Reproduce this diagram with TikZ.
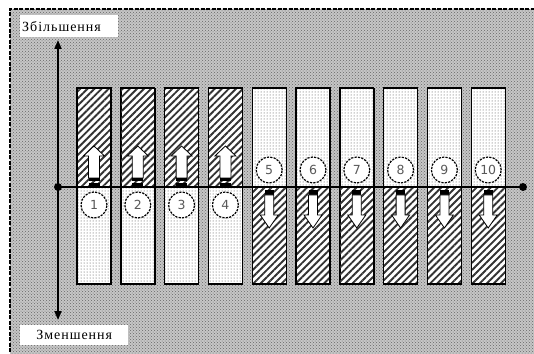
\documentclass[tikz,border=0pt]{standalone}
\usepackage{fontspec}
\setmainfont{Liberation Serif}
\newfontfamily\numfont{DejaVu Sans}
\usetikzlibrary{patterns,patterns.meta,arrows.meta}
\tikzset{
	bgpat/.style={fill=gray!45, postaction={pattern=crosshatch dots, pattern color=black!60}},
	hatchbar/.style={fill=white, postaction={pattern={Lines[angle=45,distance=5pt,line width=1.9pt]}, pattern color=black!80}, postaction={draw, line width=1.2pt}},
	dotbar/.style={fill=white, postaction={pattern=dots, pattern color=black!75}, postaction={draw, line width=1.2pt}},
	numc/.style={circle, draw, dash pattern=on 2.2pt off 1.2pt, line width=1.2pt, fill=white, minimum size=26pt, inner sep=0pt, font=\numfont\fontsize{12.5}{12.5}\selectfont, text=black!65},
	lbl/.style={fill=white, inner ysep=0pt, inner xsep=2pt, font=\fontsize{14}{15}\selectfont\addfontfeatures{LetterSpace=7}},
	uparr/.pic={
		\draw[fill=white, line width=0.8pt] (-5.5,0) -- (-5.5,22) -- (-10.5,22) -- (0,32) -- (10.5,22) -- (5.5,22) -- (5.5,0) -- cycle;
		\fill (-5.5,-3) rectangle (5.5,0);
		\fill (-5.5,-8) rectangle (5.5,-5);
	},
	downarr/.pic={
		\fill (-4.5,0) rectangle (4.5,-5);
		\draw[fill=white, line width=0.8pt] (-4.5,-5) -- (-4.5,-25) -- (-9,-25) -- (0,-38) -- (9,-25) -- (4.5,-25) -- (4.5,-5) -- cycle;
	}
}
\begin{document}
\begin{tikzpicture}[x=1pt,y=1pt]
				\clip (0,0) rectangle (534,353);
				\fill[white] (0,0) rectangle (534,353);
				\fill[bgpat] (10,-10) rectangle (545,344);
				\draw[dash pattern=on 4pt off 1.5pt, line width=1.5pt] (10,-10) rectangle (545,344);
                                \draw[hatchbar] (77,166) rectangle +(34,99);
                                \draw[hatchbar] (120.8,166) rectangle +(34,99);
                                \draw[hatchbar] (164.6,166) rectangle +(34,99);
                                \draw[hatchbar] (208.4,166) rectangle +(34,99);
                                \draw[dotbar] (77,69) rectangle +(34,97);
                                \draw[dotbar] (120.8,69) rectangle +(34,97);
                                \draw[dotbar] (164.6,69) rectangle +(34,97);
                                \draw[dotbar] (208.4,69) rectangle +(34,97);
                                \draw[dotbar] (252.2,166) rectangle +(34,99);
                                \draw[dotbar] (296,166) rectangle +(34,99);
                                \draw[dotbar] (339.8,166) rectangle +(34,99);
                                \draw[dotbar] (383.6,166) rectangle +(34,99);
                                \draw[dotbar] (427.4,166) rectangle +(34,99);
                                \draw[dotbar] (471.2,166) rectangle +(34,99);
                                \draw[hatchbar] (252.2,69) rectangle +(34,97);
                                \draw[hatchbar] (296,69) rectangle +(34,97);
                                \draw[hatchbar] (339.8,69) rectangle +(34,97);
                                \draw[hatchbar] (383.6,69) rectangle +(34,97);
                                \draw[hatchbar] (427.4,69) rectangle +(34,97);
                                \draw[hatchbar] (471.2,69) rectangle +(34,97);
				\coordinate (o) at (58,166);
				\coordinate (xend) at (523,166);
				\coordinate (ytop) at (58,313);
				\coordinate (ybot) at (58,33);
				\draw[line width=2pt, {Triangle[width=7pt,length=9pt]}-{Triangle[width=7pt,length=9pt]}] (ybot) -- (ytop);
				\draw[line width=2.5pt] (o) -- (xend);
				\fill (o) circle (4);
				\fill (xend) circle (4);
                                \pic at (94,175) {uparr};
                                \pic at (137.8,175) {uparr};
                                \pic at (181.6,175) {uparr};
                                \pic at (225.4,175) {uparr};
                                \pic at (269.2,163) {downarr};
                                \pic at (313,163) {downarr};
                                \pic at (356.8,163) {downarr};
                                \pic at (400.6,163) {downarr};
                                \pic at (444.4,163) {downarr};
                                \pic at (488.2,163) {downarr};
                                \node[numc] (n1) at (94,148) {1};
                                \node[numc] (n2) at (137.8,148) {2};
                                \node[numc] (n3) at (181.6,148) {3};
                                \node[numc] (n4) at (225.4,148) {4};
                                \node[numc] (n5) at (269.2,183) {5};
                                \node[numc] (n6) at (313,183) {6};
                                \node[numc] (n7) at (356.8,183) {7};
                                \node[numc] (n8) at (400.6,183) {8};
                                \node[numc] (n9) at (444.4,183) {9};
                                \node[numc] (n10) at (488.2,183) {10};
				\node[lbl, anchor=north west, minimum height=22pt, text width=94pt, align=left] (inc) at (20,338) {Збільшення};
				\node[lbl, anchor=south west, minimum height=20pt, text width=104pt, align=center] (dec) at (20,8) {Зменшення};
\end{tikzpicture}
\end{document}
